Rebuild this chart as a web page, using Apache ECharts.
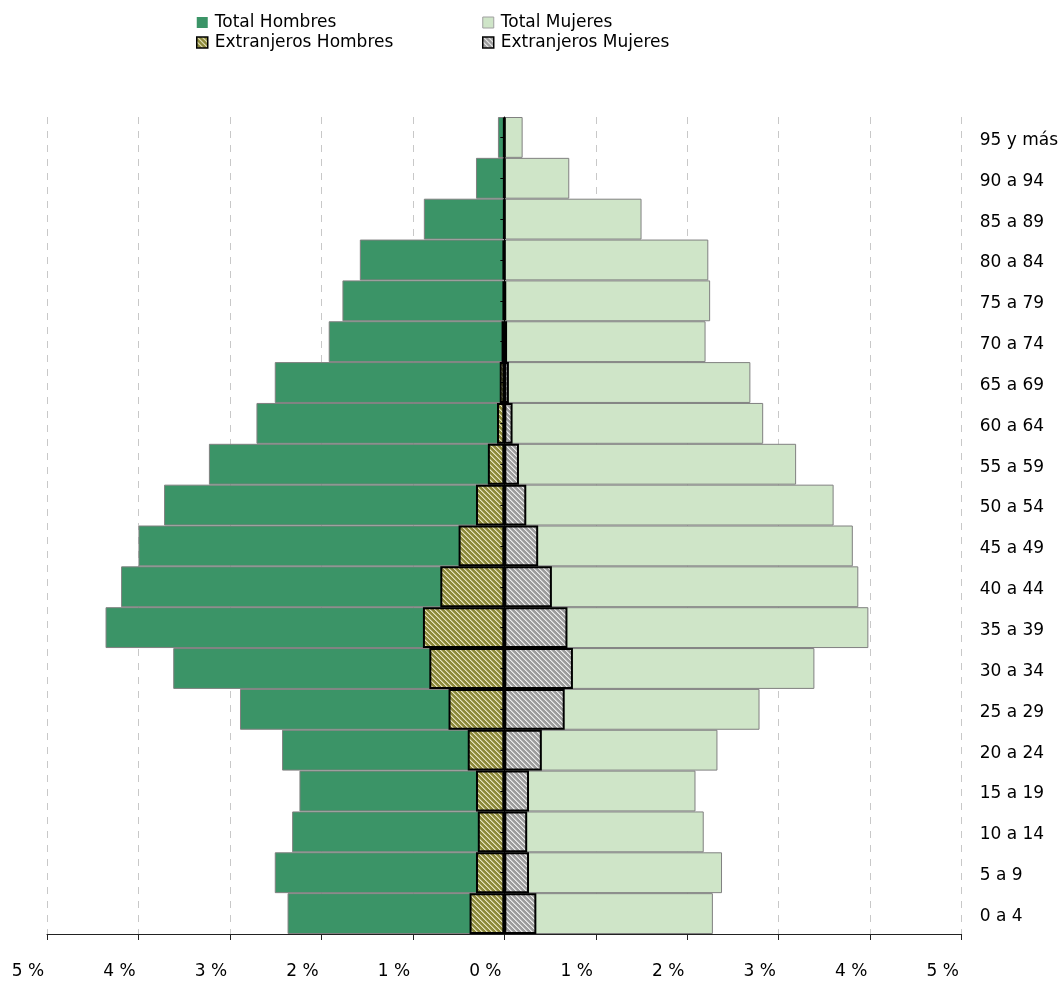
<!DOCTYPE html>
<html>
<head>
<meta charset="utf-8">
<script src="https://cdn.jsdelivr.net/npm/echarts@6/dist/echarts.min.js"></script>
<style>
html,body{margin:0;padding:0;background:#fff;}
#chart{width:1061px;height:981px;}
</style>
</head>
<body>
<div id="chart"></div>
<script>
// Age groups, bottom to top
const categories = ["0 a 4","5 a 9","10 a 14","15 a 19","20 a 24","25 a 29","30 a 34","35 a 39","40 a 44","45 a 49","50 a 54","55 a 59","60 a 64","65 a 69","70 a 74","75 a 79","80 a 84","85 a 89","90 a 94","95 y más"];
// Percent of population
const totalHombres = [2.37,2.51,2.32,2.24,2.43,2.89,3.62,4.36,4.19,4.00,3.72,3.23,2.71,2.51,1.92,1.77,1.58,0.88,0.31,0.07];
const totalMujeres = [2.28,2.38,2.18,2.09,2.33,2.79,3.39,3.98,3.87,3.81,3.60,3.19,2.83,2.69,2.20,2.25,2.23,1.50,0.71,0.20];
const extHombres = [0.38,0.31,0.29,0.31,0.40,0.61,0.82,0.89,0.70,0.50,0.31,0.18,0.08,0.05,0.03,0.02,0.02,0.01,0.01,0.01];
const extMujeres = [0.35,0.27,0.25,0.27,0.41,0.66,0.75,0.69,0.52,0.37,0.24,0.16,0.09,0.05,0.03,0.02,0.01,0.01,0.01,0.01];
const xTicks = {min:-5, max:5, interval:1};

function stripes(base, light, mid){
  const n = 5;
  const c = document.createElement('canvas');
  c.width = n; c.height = n;
  const ctx = c.getContext('2d');
  ctx.fillStyle = base; ctx.fillRect(0,0,n,n);
  for (let y=0;y<n;y++){
    for (let x=0;x<n;x++){
      const d = ((x - y) % n + n) % n;
      if (d === 0){ ctx.fillStyle = light; ctx.fillRect(x,y,1,1); }
      else if (d === 1){ ctx.fillStyle = mid; ctx.fillRect(x,y,1,1); }
    }
  }
  return {image: c, repeat: 'repeat'};
}
const olive = stripes('#8c893a', '#e6e3bd', '#bdb982');
const grey = stripes('#9c9c9c', '#ececec', '#c8c8c8');

const FONT = '"DejaVu Sans", sans-serif';
const chart = echarts.init(document.getElementById('chart'), null, {renderer:'canvas'});
chart.setOption({
  animation:false,
  textStyle:{fontFamily:FONT},
  legend:[{
    left:191, top:9, orient:'vertical', icon:'rect', itemWidth:11, itemHeight:11, itemGap:3,
    textStyle:{fontSize:17, color:'#000', fontFamily:FONT, padding:[0,0,0,2]},
    data:[
      {name:'Total Hombres', itemStyle:{borderWidth:0}},
      {name:'Extranjeros Hombres', itemStyle:{borderWidth:1.5, borderColor:'#000'}}
    ]
  },{
    left:477, top:9, orient:'vertical', icon:'rect', itemWidth:11, itemHeight:11, itemGap:3,
    textStyle:{fontSize:17, color:'#000', fontFamily:FONT, padding:[0,0,0,2]},
    data:[
      {name:'Total Mujeres', itemStyle:{borderWidth:1, borderColor:'#a0a0a0'}},
      {name:'Extranjeros Mujeres', itemStyle:{borderWidth:1.5, borderColor:'#000'}}
    ]
  }],
  grid:{left:47, right:99, top:117, bottom:47, containLabel:false},
  xAxis:{
    type:'value', min:xTicks.min, max:xTicks.max, interval:xTicks.interval,
    axisLine:{show:true, onZero:false, lineStyle:{color:'#222', width:1}},
    axisTick:{show:true, length:6, lineStyle:{color:'#222'}},
    axisLabel:{fontSize:17, color:'#000', margin:29, padding:[0,38,0,0], fontFamily:FONT,
      formatter:v=>Math.abs(Math.round(v))+' %'},
    splitLine:{show:true, lineStyle:{color:'#c8c8c8', type:[7,7], width:1}}
  },
  yAxis:[{
    type:'category', data:categories, position:'right',
    axisLine:{show:false, onZero:false}, axisTick:{show:false},
    axisLabel:{fontSize:17, color:'#000', margin:18, align:'left', fontFamily:FONT,
      formatter:v=>'{a|'+v+'}',
      rich:{a:{fontSize:17, color:'#000', fontFamily:FONT, padding:[6,0,0,0]}}}
  },{
    type:'category', data:categories, position:'left', z:10,
    axisLine:{show:true, onZero:true, lineStyle:{color:'#000', width:1}},
    axisTick:{show:true, alignWithLabel:true, length:4, lineStyle:{color:'#000'}},
    axisLabel:{show:false}
  }],
  series:[{
    name:'Total Hombres', type:'bar', yAxisIndex:0,
    data:totalHombres.map(v=>-v), barCategoryGap:'0%', barGap:'-100%',
    itemStyle:{color:'#3b9467', borderColor:'#808080', borderWidth:1}
  },{
    name:'Total Mujeres', type:'bar', yAxisIndex:0,
    data:totalMujeres, barCategoryGap:'0%', barGap:'-100%',
    itemStyle:{color:'#cfe5c8', borderColor:'#808080', borderWidth:1}
  },{
    name:'Extranjeros Hombres', type:'bar', yAxisIndex:0,
    data:extHombres.map(v=>-v), barCategoryGap:'0%', barGap:'-100%',
    itemStyle:{color:olive, borderColor:'#000', borderWidth:2}
  },{
    name:'Extranjeros Mujeres', type:'bar', yAxisIndex:0,
    data:extMujeres, barCategoryGap:'0%', barGap:'-100%',
    itemStyle:{color:grey, borderColor:'#000', borderWidth:2}
  }]
});
</script>
</body>
</html>
